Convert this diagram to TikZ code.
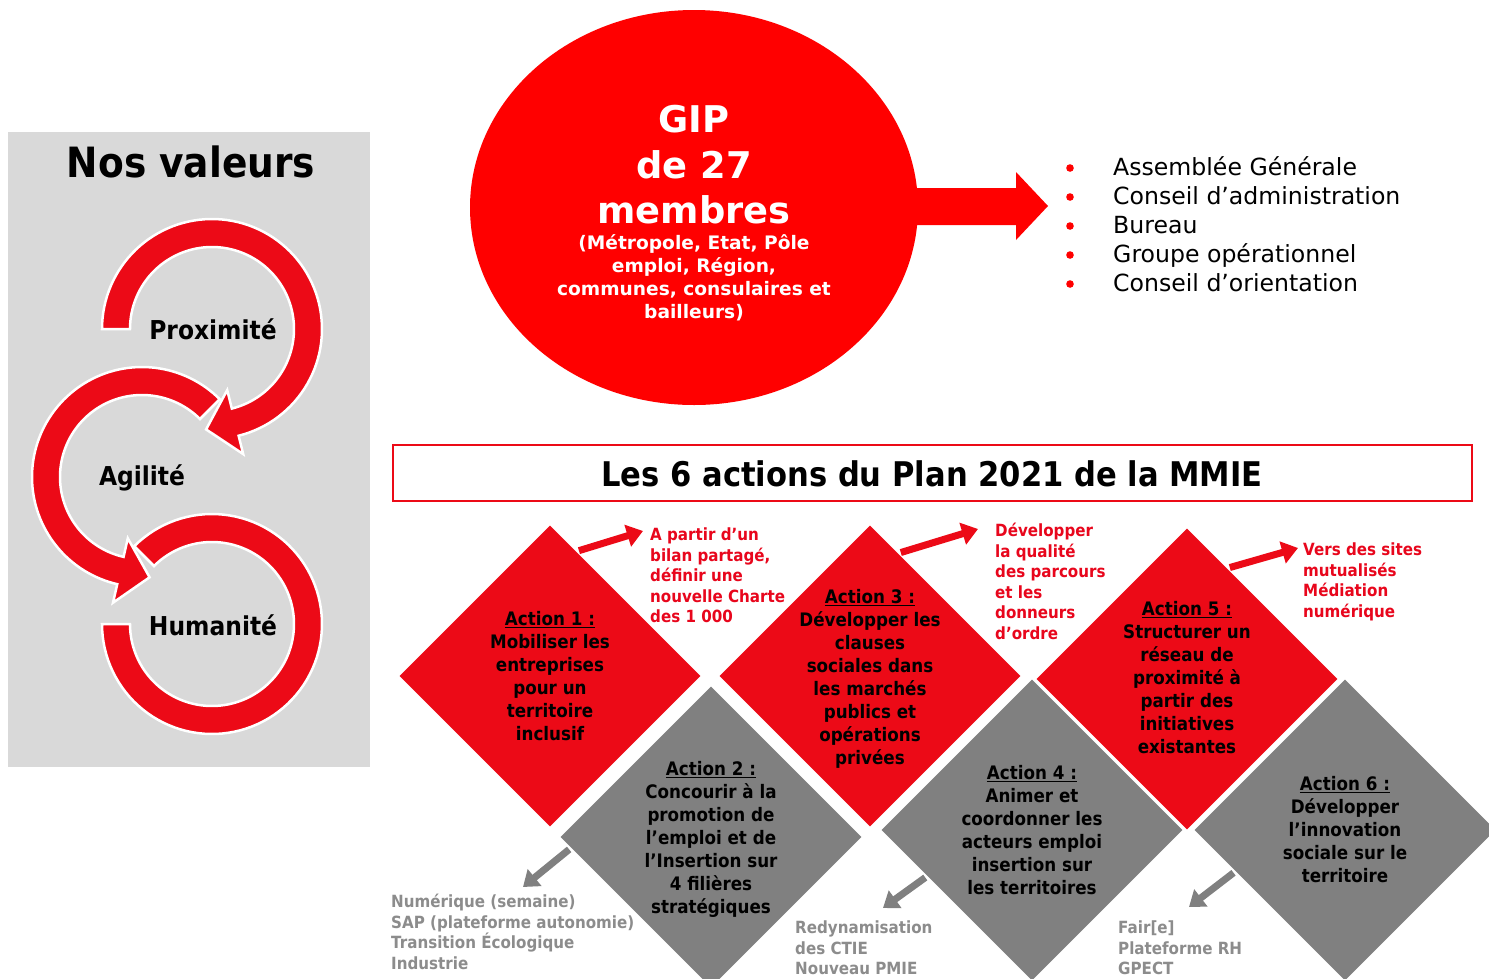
\documentclass[tikz,border=0pt]{standalone}
\usepackage{fontspec}
\setmainfont{DejaVu Sans}
\newfontfamily\tah[FakeStretch=0.9]{DejaVu Sans}
\usetikzlibrary{arrows.meta,shapes.geometric}
\definecolor{gipred}{RGB}{255,0,0}
\definecolor{dred}{RGB}{236,10,23}
\definecolor{tred}{RGB}{232,6,28}
\definecolor{dgray}{RGB}{128,128,128}
\definecolor{tgray}{RGB}{140,140,140}
\definecolor{panel}{RGB}{217,217,217}
\begin{document}
\begin{tikzpicture}[x=1pt,y=-1pt,
  ring/.style={fill=dred,draw=white,line width=2.5pt,line join=miter},
  ringlabel/.style={font=\tah\bfseries\fontsize{26}{30}\selectfont,inner sep=0pt},
  dia/.style={shape=diamond,minimum width=306pt,minimum height=306pt,inner sep=0pt,draw=white,line width=2.5pt},
  reddia/.style={dia,fill=dred},
  graydia/.style={dia,fill=dgray},
  dtext/.style={align=center,font=\tah\bfseries\fontsize{18.6}{23}\selectfont,inner sep=0pt,text=black},
  rtext/.style={anchor=north west,align=left,font=\tah\bfseries\fontsize{16.8}{20.5}\selectfont,inner sep=0pt,text=tred},
  gtext/.style={anchor=north west,align=left,font=\tah\bfseries\fontsize{16.8}{20.5}\selectfont,inner sep=0pt,text=tgray},
  redarr/.style={draw=dred,line width=7pt,-{Triangle[length=16pt,width=22pt]}},
  grayarr/.style={draw=dgray,line width=7pt,-{Triangle[length=15pt,width=21pt]}},
  gipline/.style={anchor=base,inner sep=0pt,text=white,font=\bfseries\fontsize{36.8}{46}\selectfont},
  gipsmall/.style={anchor=base,inner sep=0pt,text=white,font=\bfseries\fontsize{18.6}{23}\selectfont},
  bul/.style={anchor=base west,inner sep=0pt,font=\fontsize{23.6}{29}\selectfont}]
\useasboundingbox (0,0) rectangle (1489,978);
\fill[white] (0,0) rectangle (1489,978);

% ---------- left panel ----------
\fill[panel] (8,132) rectangle (370,767);
\node[font=\tah\bfseries\fontsize{41.7}{48}\selectfont,inner sep=0pt] (nos) at (191,162) {Nos valeurs};

\filldraw[ring] plot[domain=225:540,samples=100] ({212+110*cos(\x)},{624+110*sin(\x)})
  -- plot[domain=540:225,samples=100] ({212+82*cos(\x)},{624+82*sin(\x)}) -- cycle;
\filldraw[ring] plot[domain=315:103,samples=90] ({142+110*cos(\x)},{477+110*sin(\x)})
  -- (113.0,602.7) -- (149.6,577.3) -- (127.8,538.3)
  -- plot[domain=103:315,samples=90] ({142+82*cos(\x)},{477+82*sin(\x)}) -- cycle;
\filldraw[ring] plot[domain=180:436,samples=90] ({212+110*cos(\x)},{329+110*sin(\x)})
  -- (243.2,454.1) -- (206.1,429.4) -- (227.2,390.1)
  -- plot[domain=436:180,samples=90] ({212+82*cos(\x)},{329+82*sin(\x)}) -- cycle;

\node[ringlabel] (prox) at (213,329) {Proximité};
\node[ringlabel] (agil) at (142,478) {Agilité};
\node[ringlabel] (huma) at (213,625) {Humanité};

% ---------- GIP circle ----------
\node[ellipse,fill=gipred,minimum width=448pt,minimum height=395pt,inner sep=0pt] (gip) at (694,207.5) {};
\fill[gipred] (890,188) -- (1016,188) -- (1016,172) -- (1048,206) -- (1016,240) -- (1016,225) -- (890,225) -- cycle;
\node[gipline] (g1) at (694,132) {GIP};
\node[gipline] (g2l) at (694,178) {de 27};
\node[gipline] (g3) at (694,223) {membres};
\node[gipsmall] (s1) at (694,249) {(Métropole, Etat, Pôle};
\node[gipsmall] (s2) at (694,272) {emploi, Région,};
\node[gipsmall] (s3) at (694,295) {communes, consulaires et};
\node[gipsmall] (s4) at (694,318) {bailleurs)};

% ---------- bullet list ----------
\foreach \yy in {168,197,226,255,284} \fill[gipred] (1070,\yy) circle (3.8pt);
\node[bul] (b1) at (1113,175) {Assemblée Générale};
\node[bul] (b2) at (1113,204) {Conseil d’administration};
\node[bul] (b3) at (1113,233) {Bureau};
\node[bul] (b4) at (1113,262) {Groupe opérationnel};
\node[bul] (b5) at (1113,291) {Conseil d’orientation};

% ---------- title ----------
\node[draw=dred,line width=1.5pt,fill=white,minimum width=1079pt,minimum height=56pt,inner sep=0pt] (tbox) at (932.5,473) {};
\node[font=\tah\bfseries\fontsize{34}{40}\selectfont,inner sep=0pt] (title) at (932,474) {Les 6 actions du Plan 2021 de la MMIE};

% ---------- diamonds ----------
\node[reddia] (d1) at (550,676) {};
\node[graydia] (d2) at (711,837) {};
\node[reddia] (d3) at (870,676) {};
\node[graydia] (d4) at (1032,830) {};
\node[reddia] (d5) at (1187,679) {};
\node[graydia] (d6) at (1345,830) {};

\node[dtext] (x1) at (550,676.5) {\underline{Action 1 :}\\Mobiliser les\\entreprises\\pour un\\territoire\\inclusif};
\node[dtext] (x2) at (711,839) {\underline{Action 2 :}\\Concourir à la\\promotion de\\l’emploi et de\\l’Insertion sur\\4 filières\\stratégiques};
\node[dtext] (x3) at (870,678.5) {\underline{Action 3 :}\\Développer les\\clauses\\sociales dans\\les marchés\\publics et\\opérations\\privées};
\node[dtext] (x4) at (1032,830.5) {\underline{Action 4 :}\\Animer et\\coordonner les\\acteurs emploi\\insertion sur\\les territoires};
\node[dtext] (x5) at (1187,678) {\underline{Action 5 :}\\Structurer un\\réseau de\\proximité à\\partir des\\initiatives\\existantes};
\node[dtext] (x6) at (1345,830) {\underline{Action 6 :}\\Développer\\l’innovation\\sociale sur le\\territoire};

% ---------- annotations ----------
\node[rtext] (t1) at (650,528) {A partir d’un\\bilan partagé,\\définir une\\nouvelle Charte\\des 1 000};
\node[rtext] (t3) at (995,523) {Développer\\la qualité\\des parcours\\et les\\donneurs\\d’ordre};
\node[rtext] (t5) at (1303,543) {Vers des sites\\mutualisés\\Médiation\\numérique};
\node[gtext] (t2) at (391,894) {Numérique (semaine)\\SAP (plateforme autonomie)\\Transition Écologique\\Industrie};
\node[gtext] (t4) at (795,921) {Redynamisation\\des CTIE\\Nouveau PMIE};
\node[gtext] (t6) at (1118,921) {Fair[e]\\Plateforme RH\\GPECT};

\coordinate (a1) at (643,531);
\coordinate (a3) at (978,529);
\coordinate (a5) at (1298,548);
\coordinate (a2) at (523,887);
\coordinate (a4) at (883,908);
\coordinate (a6) at (1189,907);

\draw[redarr] (d1.77) -- (a1);
\draw[redarr] (d3.76) -- (a3);
\draw[redarr] (d5.69) -- (a5);
\draw[grayarr] (d2.185) -- (a2);
\draw[grayarr] (d4.204) -- (a4);
\draw[grayarr] (d6.201) -- (a6);
\end{tikzpicture}
\end{document}
